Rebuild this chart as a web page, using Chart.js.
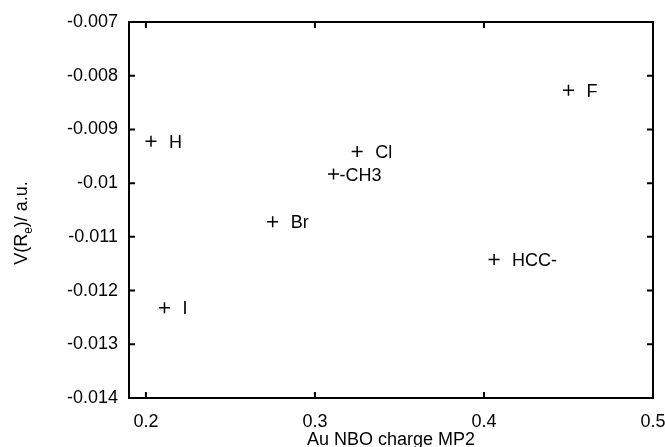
<!DOCTYPE html>
<html>
<head>
<meta charset="utf-8">
<script src="https://cdn.jsdelivr.net/npm/chart.js@4/dist/chart.umd.min.js"></script>
<style>
  html, body { margin: 0; padding: 0; background: #fff; }
  #wrap { width: 665px; height: 447px; }
</style>
</head>
<body>
<div id="wrap"><canvas id="chart" width="665" height="447"></canvas></div>
<script>
// Data
const substituents = ['H', 'F', 'Cl', 'Br', 'I', '-CH3', 'HCC-'];
const nboCharge = [0.203, 0.450, 0.325, 0.275, 0.211, 0.311, 0.406];
const potential = [-0.00922, -0.00827, -0.00941, -0.01072, -0.01232, -0.00983, -0.01142];
const xTicks = [0.2, 0.3, 0.4, 0.5];
const yTicks = [-0.007, -0.008, -0.009, -0.010, -0.011, -0.012, -0.013, -0.014];

const FONT = '"Liberation Sans", Arial, Helvetica, sans-serif';

// frame + inward ticks on all four sides (gnuplot style)
const framePlugin = {
    id: 'frame',
    afterDraw(chart) {
        const ctx = chart.ctx, a = chart.chartArea;
        const xs = chart.scales.x, ys = chart.scales.y;
        const tl = 6;
        ctx.save();
        ctx.strokeStyle = '#000';
        ctx.lineWidth = 2;
        ctx.strokeRect(a.left, a.top, a.right - a.left, a.bottom - a.top);
        ctx.beginPath();
        xTicks.forEach(v => {
            const px = xs.getPixelForValue(v);
            ctx.moveTo(px, a.bottom); ctx.lineTo(px, a.bottom - tl);
            ctx.moveTo(px, a.top); ctx.lineTo(px, a.top + tl);
        });
        yTicks.forEach(v => {
            const py = ys.getPixelForValue(v);
            ctx.moveTo(a.left, py); ctx.lineTo(a.left + tl, py);
            ctx.moveTo(a.right, py); ctx.lineTo(a.right - tl, py);
        });
        ctx.stroke();
        ctx.restore();
    }
};

// point labels next to each cross
const labelPlugin = {
    id: 'pointLabels',
    afterDatasetsDraw(chart) {
        const ctx = chart.ctx;
        const meta = chart.getDatasetMeta(0);
        ctx.save();
        ctx.fillStyle = '#000';
        ctx.font = '18px ' + FONT;
        ctx.textBaseline = 'alphabetic';
        meta.data.forEach((el, i) => {
            const name = substituents[i];
            const off = name.charAt(0) === '-' ? 6 : 18;
            ctx.fillText(name, el.x + off, el.y + 6.5);
        });
        ctx.restore();
    }
};

// y axis title with subscript e
const yTitlePlugin = {
    id: 'yTitle',
    afterDraw(chart) {
        const ctx = chart.ctx, a = chart.chartArea;
        const parts = [['V(R', 18, 0], ['e', 12, 5], [')/ a.u.', 18, 0]];
        ctx.save();
        ctx.fillStyle = '#000';
        let total = 0;
        parts.forEach(p => { ctx.font = p[1] + 'px ' + FONT; total += ctx.measureText(p[0]).width; });
        ctx.translate(27, (a.top + a.bottom) / 2 + 13);
        ctx.rotate(-Math.PI / 2);
        let x = -total / 2;
        parts.forEach(p => {
            ctx.font = p[1] + 'px ' + FONT;
            ctx.fillText(p[0], x, p[2]);
            x += ctx.measureText(p[0]).width;
        });
        ctx.restore();
    }
};

new Chart(document.getElementById('chart'), {
    type: 'scatter',
    data: {
        datasets: [{
            data: nboCharge.map((c, i) => ({ x: c, y: potential[i] })),
            pointStyle: 'cross',
            pointRadius: 5.5,
            pointHoverRadius: 5.5,
            borderColor: '#000',
            backgroundColor: '#000',
            borderWidth: 1.5
        }]
    },
    options: {
        responsive: false,
        animation: false,
        layout: { padding: { top: 22, right: 12, left: 0, bottom: 0 } },
        plugins: { legend: { display: false }, tooltip: { enabled: false } },
        scales: {
            x: {
                type: 'linear',
                min: 0.19, max: 0.5,
                afterBuildTicks: s => { s.ticks = xTicks.map(v => ({ value: v })); },
                afterFit: s => { s.height = 49; s.paddingLeft = 0; s.paddingRight = 0; },
                grid: { display: false, drawTicks: false },
                border: { display: false },
                ticks: {
                    color: '#000', padding: 13,
                    font: { family: FONT, size: 18 },
                    maxRotation: 0,
                    callback: v => String(Number(v.toFixed(2)))
                },
                title: {
                    display: true, text: 'Au NBO charge MP2', color: '#000',
                    font: { family: FONT, size: 18 }, padding: { top: 0, bottom: -4 }
                }
            },
            y: {
                type: 'linear',
                min: -0.014, max: -0.007,
                afterBuildTicks: s => { s.ticks = yTicks.map(v => ({ value: v })); },
                afterFit: s => { s.width = 129; s.paddingTop = 0; s.paddingBottom = 0; },
                grid: { display: false, drawTicks: false },
                border: { display: false },
                ticks: {
                    color: '#000', padding: 11,
                    font: { family: FONT, size: 18 },
                    callback: v => String(Number(v.toFixed(3)))
                }
            }
        }
    },
    plugins: [framePlugin, labelPlugin, yTitlePlugin]
});
</script>
</body>
</html>
